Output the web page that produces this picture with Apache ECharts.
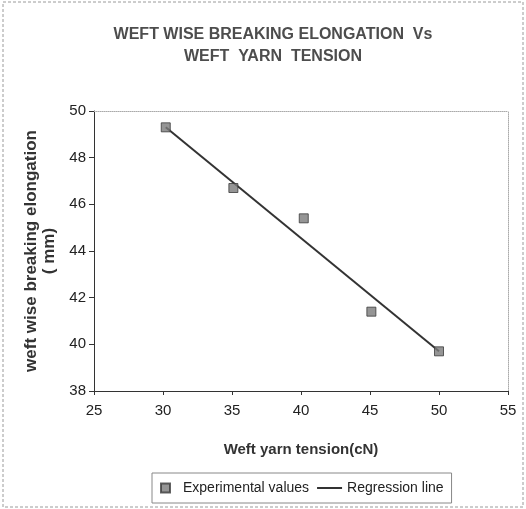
<!DOCTYPE html>
<html>
<head>
<meta charset="utf-8">
<script src="https://cdn.jsdelivr.net/npm/echarts@6/dist/echarts.min.js"></script>
<style>
html,body{margin:0;padding:0;background:#fff;}
#chart{width:526px;height:509px;}
</style>
</head>
<body>
<div id="chart"></div>
<script>
// Data
var tension = [30.2, 35.1, 40.2, 45.1, 50.0];            // Weft yarn tension (cN)
var elongation = [49.3, 46.7, 45.4, 41.4, 39.7];          // Experimental values (mm)
var regressionX = [30.2, 50.0];                           // Regression line end points
var regressionY = [49.3, 39.7];
var xTicks = [25, 30, 35, 40, 45, 50, 55];
var yTicks = [38, 40, 42, 44, 46, 48, 50];

var titleText = 'WEFT WISE BREAKING ELONGATION  Vs\nWEFT  YARN  TENSION';
var xName = 'Weft yarn tension(cN)';
var yName = 'weft wise breaking elongation\n( mm)';
var seriesNames = ['Experimental values', 'Regression line'];

var sans = "'Liberation Sans', Arial, sans-serif";

var chart = echarts.init(document.getElementById('chart'), null, {renderer: 'canvas'});

var expData = tension.map(function (x, i) { return [x, elongation[i]]; });
var regData = regressionX.map(function (x, i) { return [x, regressionY[i]]; });

var option = {
  backgroundColor: '#ffffff',
  animation: false,
  title: {
    text: titleText,
    left: 268,
    textAlign: 'center',
    top: 19,
    textStyle: {
      fontFamily: sans,
      fontSize: 16,
      fontWeight: 'bold',
      color: '#4d4d4d',
      lineHeight: 22
    }
  },
  graphic: [{
    type: 'rect',
    shape: {x: 3, y: 2, width: 520, height: 505},
    style: {fill: 'none', stroke: '#9a9a9a', lineWidth: 1, lineDash: [3, 2]},
    silent: true,
    z: -1
  }],
  grid: {left: 94, right: 18, top: 111, bottom: 118, containLabel: false},
  legend: {
    data: [
      {name: seriesNames[0], icon: 'path://M0,0L10,0L10,10L0,10Z'},
      {name: seriesNames[1], icon: 'path://M0,0L25,0L25,2L0,2Z'}
    ],
    symbolKeepAspect: true,
    left: 152,
    top: 473,
    itemWidth: 25,
    itemHeight: 9,
    itemGap: 8,
    padding: [8, 8, 8, 8],
    borderColor: '#888',
    borderWidth: 1,
    textStyle: {fontFamily: sans, fontSize: 14, color: '#222'}
  },
  xAxis: [{
    type: 'value',
    min: 25, max: 55, interval: 5,
    name: xName,
    nameLocation: 'middle',
    nameGap: 51,
    nameTextStyle: {fontFamily: sans, fontSize: 15, fontWeight: 'bold', color: '#333'},
    axisLine: {show: true, lineStyle: {color: '#333', width: 1}},
    axisTick: {show: true, length: 4, lineStyle: {color: '#333'}},
    axisLabel: {
      margin: 12,
      fontFamily: sans, fontSize: 15, color: '#222',
      formatter: function (v) { return xTicks.indexOf(v) >= 0 ? String(v) : ''; }
    },
    splitLine: {show: false}
  }, {
    type: 'value',
    position: 'top',
    min: 25, max: 55, interval: 5,
    axisLine: {show: true, onZero: false, lineStyle: {color: '#aaa', width: 1, type: 'dotted'}},
    axisTick: {show: false},
    axisLabel: {show: false},
    splitLine: {show: false}
  }],
  yAxis: [{
    type: 'value',
    min: 38, max: 50, interval: 2,
    name: yName,
    nameLocation: 'middle',
    nameGap: 27,
    nameRotate: 90,
    nameTextStyle: {fontFamily: sans, fontSize: 17, fontWeight: 'bold', color: '#333', lineHeight: 18},
    axisLine: {show: true, lineStyle: {color: '#333', width: 1}},
    axisTick: {show: true, length: 5, lineStyle: {color: '#333'}},
    axisLabel: {
      margin: 8,
      fontFamily: sans, fontSize: 15, color: '#222',
      formatter: function (v) { return yTicks.indexOf(v) >= 0 ? String(v) : ''; }
    },
    splitLine: {show: false}
  }, {
    type: 'value',
    position: 'right',
    min: 38, max: 50, interval: 2,
    axisLine: {show: true, onZero: false, lineStyle: {color: '#aaa', width: 1, type: 'dotted'}},
    axisTick: {show: false},
    axisLabel: {show: false},
    splitLine: {show: false}
  }],
  series: [{
    name: seriesNames[0],
    type: 'scatter',
    symbol: 'rect',
    symbolSize: 9,
    data: expData,
    itemStyle: {color: '#7a7a7a', borderColor: '#3a3a3a', borderWidth: 1},
    z: 3
  }, {
    name: seriesNames[1],
    type: 'line',
    symbol: 'none',
    data: regData,
    lineStyle: {color: '#333', width: 2},
    itemStyle: {color: '#333'},
    z: 2
  }]
};
chart.setOption(option);
</script>
</body>
</html>
